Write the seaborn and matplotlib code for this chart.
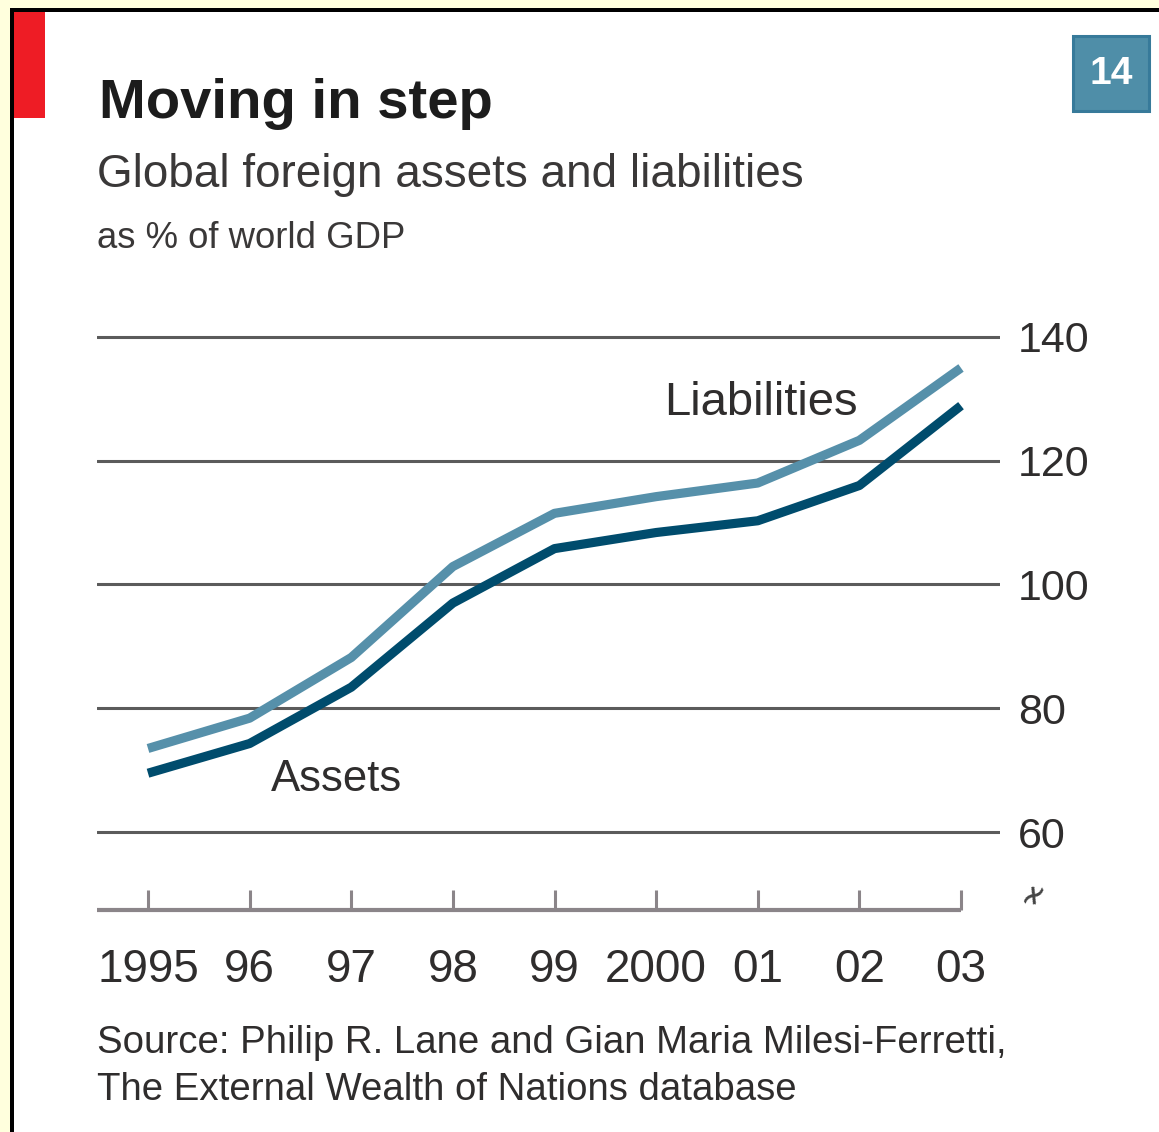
import matplotlib
matplotlib.use("Agg")
import matplotlib.pyplot as plt
from matplotlib.patches import Rectangle
import pandas as pd
import seaborn as sns

# ---- data -------------------------------------------------------------
years = [1995, 1996, 1997, 1998, 1999, 2000, 2001, 2002, 2003]
year_labels = ["1995", "96", "97", "98", "99", "2000", "01", "02", "03"]
liabilities = [73.5, 78.4, 88.2, 102.9, 111.5, 114.2, 116.4, 123.3, 135.0]
assets = [69.5, 74.3, 83.4, 97.0, 105.8, 108.4, 110.3, 116.0, 128.9]
y_ticks = [60, 80, 100, 120, 140]

title = "Moving in step"
subtitle = "Global foreign assets and liabilities"
unit_note = "as % of world GDP"
source_lines = ["Source: Philip R. Lane and Gian Maria Milesi-Ferretti,",
                "The External Wealth of Nations database"]
chart_number = "14"

# ---- styling ----------------------------------------------------------
W, H = 1159, 1132
DPI = 100
sns.set_theme(style="white")
plt.rcParams["font.family"] = ["Liberation Sans", "DejaVu Sans"]

LIGHT = "#5690AA"
DARK = "#004C6D"
GRID = "#5b5b5b"
BASE = "#8b8589"
TXT = "#2f2d2d"


def fx(x):
    return x / W


def fy(y):
    return 1 - y / H


fig = plt.figure(figsize=(W / DPI, H / DPI), dpi=DPI, facecolor="#FFFFDD")

# panel frame: black edge on left/top, white body
fig.add_artist(Rectangle((fx(10), 0), 1 - fx(10), fy(8), transform=fig.transFigure,
                         facecolor="black", edgecolor="none", zorder=0))
fig.add_artist(Rectangle((fx(14), 0), 1 - fx(14), fy(12), transform=fig.transFigure,
                         facecolor="white", edgecolor="none", zorder=0))
# red tab
fig.add_artist(Rectangle((fx(14), fy(118)), fx(45) - fx(14), fy(12) - fy(118),
                         transform=fig.transFigure, facecolor="#EE1C25",
                         edgecolor="none", zorder=1))
# chart number box
fig.add_artist(Rectangle((fx(1073), fy(111)), fx(1149) - fx(1073), fy(36) - fy(111),
                         transform=fig.transFigure, facecolor="#4F8EA8",
                         edgecolor="#377A9A", linewidth=2.2, zorder=1))
fig.text(fx(1111), fy(74), chart_number, color="white", fontsize=28,
         fontweight="bold", ha="center", va="center", zorder=2)

# titles
fig.text(fx(99), fy(118), title, fontsize=40.5, fontweight="bold", color="#1c1c1c",
         ha="left", va="baseline")
fig.text(fx(97), fy(187), subtitle, fontsize=33, color="#3a3838",
         ha="left", va="baseline")
fig.text(fx(97), fy(248), unit_note, fontsize=26.3, color="#3a3838",
         ha="left", va="baseline")
fig.text(fx(97), fy(1053), source_lines[0], fontsize=27.6, color=TXT,
         ha="left", va="baseline")
fig.text(fx(97), fy(1100), source_lines[1], fontsize=27.6, color=TXT,
         ha="left", va="baseline")

# ---- axes -------------------------------------------------------------
px_per_year = (961 - 148) / 8
px_per_unit = (832 - 337) / 80
x_left = 1995 - (148 - 97) / px_per_year
x_right = 2003 + (1000 - 961) / px_per_year
y_top_px, y_bot_px = 320, 912
y_top = 140 + (337 - y_top_px) / px_per_unit
y_bot = 60 - (y_bot_px - 832) / px_per_unit
base_val = 60 - (910 - 832) / px_per_unit

ax = fig.add_axes([fx(97), fy(y_bot_px), fx(1000) - fx(97), fy(y_top_px) - fy(y_bot_px)])
ax.set_facecolor("none")
ax.set_xlim(x_left, x_right)
ax.set_ylim(y_bot, y_top)

for v in y_ticks:
    ax.axhline(v, color=GRID, lw=2.2, zorder=1)

df = pd.DataFrame({
    "year": years * 2,
    "value": liabilities + assets,
    "series": ["Liabilities"] * len(years) + ["Assets"] * len(years),
})
sns.lineplot(data=df, x="year", y="value", hue="series",
             palette={"Liabilities": LIGHT, "Assets": DARK},
             linewidth=6.6, legend=False, ax=ax, zorder=3)
for line in ax.lines[-2:]:
    line.set_solid_capstyle("butt")
    line.set_solid_joinstyle("round")

# spines / ticks
for s in ["top", "right", "left"]:
    ax.spines[s].set_visible(False)
ax.spines["bottom"].set_position(("data", base_val))
ax.spines["bottom"].set_bounds(x_left, 2003)
ax.spines["bottom"].set_color(BASE)
ax.spines["bottom"].set_linewidth(3.0)
ax.spines["bottom"].set_capstyle("butt")

ax.set_xticks(years)
ax.set_xticklabels(year_labels)
ax.tick_params(axis="x", direction="in", length=14.5, width=2.2, color=BASE,
               pad=27, labelsize=33, labelcolor=TXT, bottom=True)

ax.yaxis.tick_right()
ax.set_yticks(y_ticks)
ax.set_yticklabels([str(v) for v in y_ticks])
ax.tick_params(axis="y", length=0, pad=13, labelsize=31, labelcolor=TXT)
ax.set_xlabel("")
ax.set_ylabel("")

# direct labels
ax.text(2001.03, 129.4, "Liabilities", fontsize=34, color=TXT, ha="center",
        va="center")
ax.text(1996.86, 68.5, "Assets", fontsize=31.5, color=TXT, ha="center",
        va="center")

# axis break mark
fig.text(fx(1034), fy(895), "\u2241", fontsize=26, color="#444444",
         ha="center", va="center", family=["DejaVu Sans"], rotation=30)

fig.savefig("out.png", dpi=DPI, facecolor=fig.get_facecolor())
